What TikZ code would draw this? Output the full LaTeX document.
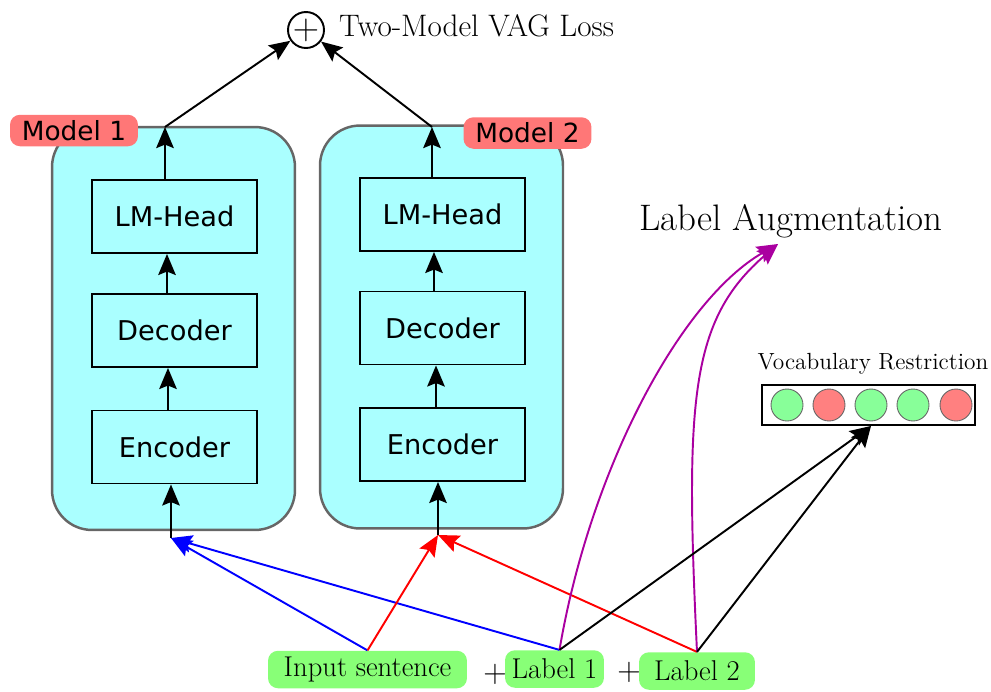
\documentclass[tikz,border=0pt]{standalone}
\usepackage{fontspec}
\newfontfamily\boxfont{DejaVu Sans}
\usetikzlibrary{arrows.meta}

\definecolor{modelcyan}{RGB}{170,255,255}
\definecolor{framegray}{RGB}{102,102,102}
\definecolor{tagred}{RGB}{255,119,119}
\definecolor{inputgreen}{RGB}{136,255,119}
\definecolor{dotgreen}{RGB}{136,255,153}
\definecolor{dotred}{RGB}{255,128,128}
\definecolor{augmagenta}{RGB}{170,0,160}

\tikzset{
    model/.style   = {draw=framegray, line width=1.4pt, fill=modelcyan,
                      rounded corners=0.8cm, minimum width=4.86cm, minimum height=8.06cm},
    layer/.style   = {draw, line width=1.1pt, minimum width=3.3cm, minimum height=1.46cm,
                      font=\boxfont\fontsize{15.5}{18}\selectfont},
    tag/.style     = {fill=tagred, rounded corners=0.2cm, minimum width=2.56cm,
                      minimum height=0.63cm, inner sep=0pt,
                      font=\boxfont\fontsize{15}{18}\selectfont},
    inbox/.style   = {fill=inputgreen, rounded corners=0.2cm, minimum height=0.75cm,
                      inner sep=0pt, font=\fontsize{16.3}{18}\selectfont},
    dot/.style     = {circle, draw=framegray, line width=0.5pt, minimum size=0.64cm, inner sep=0pt},
    arr/.style     = {-{Stealth[length=12pt,width=10pt,inset=2pt]}, line width=1.1pt},
}

\begin{document}
\begin{tikzpicture}[x=0.02cm, y=-0.02cm]
        \useasboundingbox (0,0) rectangle (991,691);

        % Two models
        \node[model]    (m1)    at (173.5, 328.5) {};
        \node[model]    (m2)    at (441.5, 327.0) {};
        \node[tag]      (t1)    at (  74, 130.5) {Model 1};
        \node[tag]      (t2)    at (527.5, 133) {Model 2};

        % Layers of model 1
        \node[layer]    (lm1)   at (174.5, 216.5) {LM-Head};
        \node[layer]    (dec1)  at (174.5, 330.5) {Decoder};
        \node[layer]    (enc1)  at (174.5, 447.0) {Encoder};

        % Layers of model 2
        \node[layer]    (lm2)   at (442.5, 214.5) {LM-Head};
        \node[layer]    (dec2)  at (442.5, 328.0) {Decoder};
        \node[layer]    (enc2)  at (442.5, 444.5) {Encoder};

        % Loss
        \node[circle, draw, line width=1.1pt, minimum size=0.72cm, inner sep=0pt,
              font=\fontsize{20}{22}\selectfont] (plus) at (306, 30) {$+$};
        \node[anchor=west, font=\fontsize{17.7}{20}\selectfont] (loss) at (333, 26) {Two-Model VAG Loss};

        % Label augmentation and vocabulary restriction
        \node[font=\fontsize{21}{24}\selectfont] (aug) at (791, 221) {Label Augmentation};
        \node[font=\fontsize{13.3}{15}\selectfont] (vocabtxt) at (873, 364) {Vocabulary Restriction};
        \node[draw, line width=1.1pt, minimum width=4.26cm, minimum height=0.8cm] (vocab) at (868.5, 405) {};
        \foreach \x/\c [count=\i] in {787/dotgreen, 829/dotred, 871/dotgreen, 913/dotgreen, 956/dotred}
            \node[dot, fill=\c] (d\i) at (\x, 405) {};

        % Inputs
        \node[inbox, minimum width=3.98cm] (inp)  at (367.5, 669.5) {Input sentence};
        \node[inbox, minimum width=1.98cm] (lab1) at (554.5, 669.0) {Label 1};
        \node[inbox, minimum width=2.32cm] (lab2) at (697.0, 671.0) {Label 2};
        \node[inner sep=0pt, font=\fontsize{18.5}{20}\selectfont] (p1) at (495, 674) {+};
        \node[inner sep=0pt, font=\fontsize{18.5}{20}\selectfont] (p2) at (629, 672) {+};

        % Entry and exit points of the models
        \coordinate     (in1)   at (171, 538);
        \coordinate     (in2)   at (438, 535);
        \coordinate     (top1)  at (165, 127);
        \coordinate     (top2)  at (432, 127);

        % Flow through model 1
        \draw[arr]      (in1)                   -- (in1 |- enc1.south);
        \draw[arr]      (enc1.north -| 168,0)   -- (dec1.south -| 168,0);
        \draw[arr]      (dec1.north -| 167,0)   -- (lm1.south -| 167,0);
        \draw[arr]      (lm1.north -| top1)     -- (top1);
        \draw[arr]      (top1)                  -- (plus);

        % Flow through model 2
        \draw[arr]      (in2)                   -- (in2 |- enc2.south);
        \draw[arr]      (enc2.north -| 436,0)   -- (dec2.south -| 436,0);
        \draw[arr]      (dec2.north -| 434,0)   -- (lm2.south -| 434,0);
        \draw[arr]      (lm2.north -| top2)     -- (top2);
        \draw[arr]      (top2)                  -- (plus);

        % Inputs to the models
        \draw[arr, blue]        (inp.north)     -- (in1);
        \draw[arr, blue]        ([xshift=0.1cm]lab1.north) -- (in1);
        \draw[arr, red]         (inp.north)     -- (in2);
        \draw[arr, red]         (lab2.north)    -- (in2);

        % Labels to augmentation
        \draw[arr, augmagenta]  ([xshift=0.1cm]lab1.north) .. controls (590, 470) and (680, 300) .. ([xshift=-0.26cm]aug.south);
        \draw[arr, augmagenta]  (lab2.north)    .. controls (685, 400) and (690, 320) .. ([xshift=-0.26cm]aug.south);

        % Labels to vocabulary restriction
        \draw[arr]      ([xshift=0.1cm]lab1.north)  -- ([xshift=0.05cm]vocab.south);
        \draw[arr]      (lab2.north)                -- ([xshift=0.05cm]vocab.south);
\end{tikzpicture}
\end{document}
